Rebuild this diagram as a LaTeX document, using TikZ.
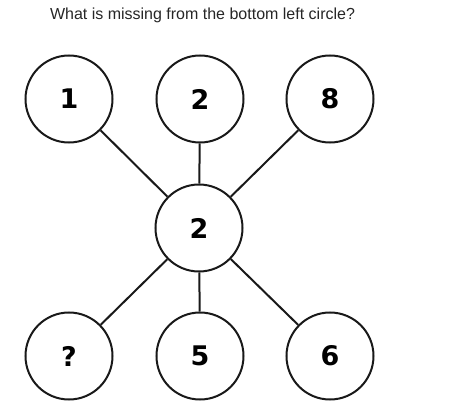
\documentclass[tikz,border=0pt]{standalone}
\usepackage{fontspec}
\setmainfont{Liberation Sans}
\newfontfamily\digitfont{DejaVu Sans}
\begin{document}
\begin{tikzpicture}[x=1pt,y=-1pt]
\useasboundingbox (0,0) rectangle (459,420);
\tikzstyle{every node}=[draw=black!90,shape=circle,line width=2pt,minimum size=87pt,inner sep=0pt,font=\digitfont\fontsize{27}{27}\selectfont\bfseries];
\node[draw=none,shape=rectangle,minimum size=0pt,anchor=base,font=\fontsize{16}{16}\selectfont,text=black!85] (title) at (202.5,20) {What is missing from the bottom left circle?};
\path (199,228) node (c) {2};
\foreach \x/\n [count=\i] in {69/1,200/2,330/8}
{
\path (\x,99) node (t\i) {\n};
}
\foreach \x/\n [count=\i] in {69/?,200/5,330/6}
{
\path (\x,356) node (b\i) {\n};
}
\draw[line width=2pt,black!90]
(c) -- (t1) (c) -- (t2) (c) -- (t3)
(c) -- (b1) (c) -- (b2) (c) -- (b3)
;
\end{tikzpicture}
\end{document}
